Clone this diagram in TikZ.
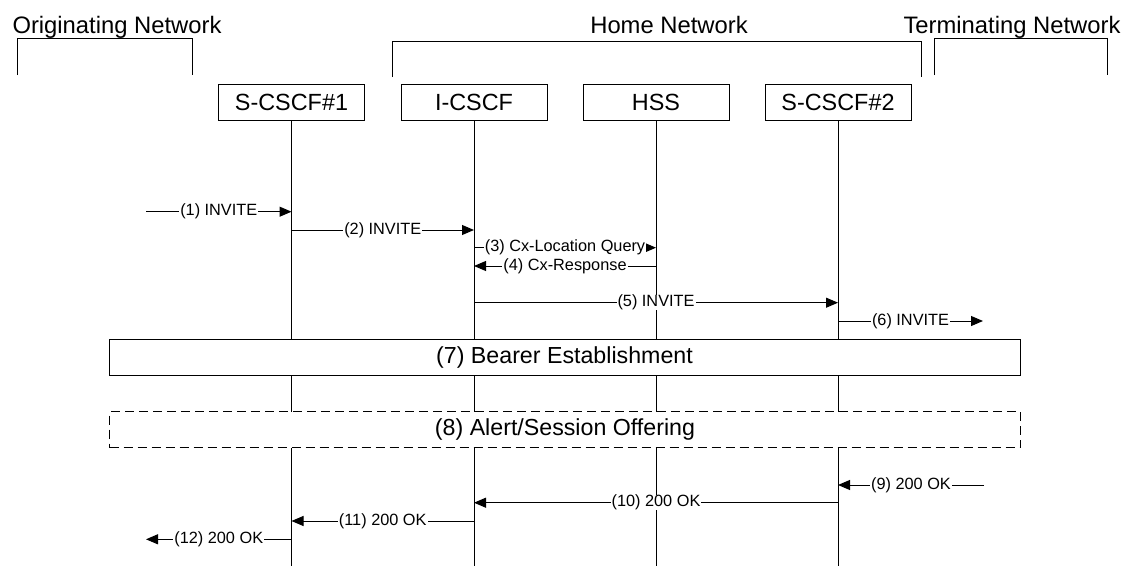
\documentclass[tikz,border=0pt]{standalone}
\usepackage{fontspec}
\setmainfont{Liberation Sans}
\usepackage{tikz}
\usetikzlibrary{arrows.meta}
\tikzset{
  entity/.style={draw, line width=1pt, minimum width=146pt, minimum height=36pt, inner sep=0pt, font=\fontsize{23.4}{28}\selectfont},
  network/.style={anchor=base, inner sep=0pt, font=\fontsize{23.8}{28}\selectfont},
  phase/.style={draw, fill=white, line width=1pt, minimum width=911pt, minimum height=36pt, inner sep=0pt, font=\fontsize{23.2}{28}\selectfont},
  lifeline/.style={line width=1pt},
  msg/.style={line width=1pt, -{Triangle[length=12pt,width=10pt]}},
  lbl/.style={midway, fill=white, inner xsep=1pt, inner ysep=0pt, font=\fontsize{16.3}{19}\selectfont}
}

\begin{document}
\begin{tikzpicture}[x=1pt,y=-1pt]
\useasboundingbox (0,0) rectangle (1126,570);
\node[network] (orig) at (117,33) {Originating Network};
\node[network] (home) at (669,33) {Home Network};
\node[network] (term) at (1012,33) {Terminating Network};
\draw[lifeline] (17,75) |- (192,38) -- (192,75);
\draw[lifeline] (392,77) |- (921,41) -- (921,77);
\draw[lifeline] (934,75) |- (1107,38) -- (1107,75);

\node[entity] (scscfa) at (291.5,102) {S-CSCF\#1};
\node[entity] (icscf) at (474,102) {I-CSCF};
\node[entity] (hss) at (656,102) {HSS};
\node[entity] (scscfb) at (838,102) {S-CSCF\#2};

\coordinate (bottom) at (0,566);
\foreach \n in {scscfa,icscf,hss,scscfb}
  \draw[lifeline] (\n.south) -- (\n.south |- bottom);

\coordinate (m1) at (146,211.7);
\draw[msg] (m1) -- node[lbl]{(1) INVITE} (scscfa |- m1);
\coordinate (m2) at (0,230);
\draw[msg] (scscfa |- m2) -- node[lbl]{(2) INVITE} (icscf |- m2);
\coordinate (m3) at (0,247.7);
\draw[msg] (icscf |- m3) -- node[lbl]{(3) Cx-Location Query} (hss |- m3);
\coordinate (m4) at (0,266);
\draw[msg] (hss |- m4) -- node[lbl]{(4) Cx-Response} (icscf |- m4);
\coordinate (m5) at (0,302.7);
\draw[msg] (icscf |- m5) -- node[lbl]{(5) INVITE} (scscfb |- m5);
\coordinate (m6) at (983,321);
\draw[msg] (scscfb |- m6) -- node[lbl]{(6) INVITE} (m6);

\node[phase] (bearer) at (564.5,357) {(7) Bearer Establishment};
\node[phase, dash pattern=on 9pt off 5pt] (alert) at (565,429.5) {(8) Alert/Session Offering};

\coordinate (m9) at (984,485);
\draw[msg] (m9) -- node[lbl]{(9) 200 OK} (scscfb |- m9);
\coordinate (m10) at (0,502.7);
\draw[msg] (scscfb |- m10) -- node[lbl]{(10) 200 OK} (icscf |- m10);
\coordinate (m11) at (0,521);
\draw[msg] (icscf |- m11) -- node[lbl]{(11) 200 OK} (scscfa |- m11);
\coordinate (m12) at (146,539.3);
\draw[msg] (scscfa |- m12) -- node[lbl]{(12) 200 OK} (m12);
\end{tikzpicture}
\end{document}
